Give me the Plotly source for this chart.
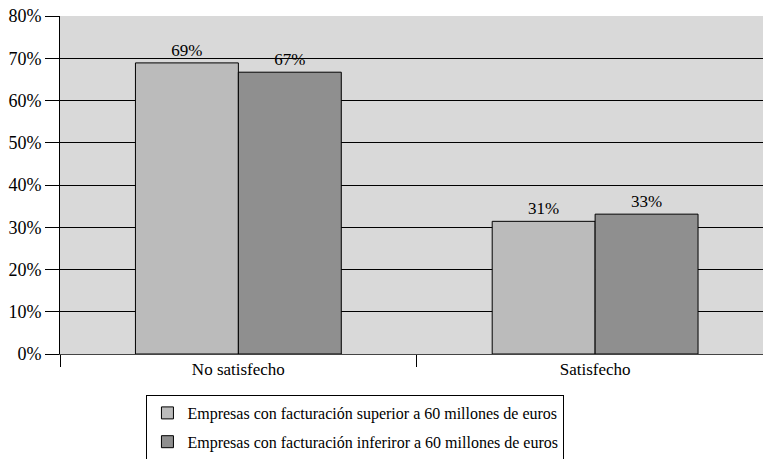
import plotly.graph_objects as go

categories = ["No satisfecho", "Satisfecho"]
series_names = ["Empresas con facturación superior a 60 millones de euros",
                "Empresas con facturación inferiror a 60 millones de euros"]
superior = [68.9, 31.4]
inferior = [66.7, 33.1]
y_ticks = [0, 10, 20, 30, 40, 50, 60, 70, 80]
y_tick_labels = ["0%", "10%", "20%", "30%", "40%", "50%", "60%", "70%", "80%"]

FONT = "Liberation Serif, Times New Roman, DejaVu Serif, serif"
fig = go.Figure()
for name, vals, col, grp in [(series_names[0], superior, "#bbbbbb", "a"),
                             (series_names[1], inferior, "#8f8f8f", "b")]:
    fig.add_trace(go.Bar(
        x=categories, y=vals, name=name, legendgroup=grp,
        marker=dict(color=col, line=dict(color="black", width=1)),
        texttemplate="%{y:.0f}%", textposition="outside",
        textfont=dict(family=FONT, size=17, color="black"),
        cliponaxis=False,
    ))

fig.update_layout(
    width=763, height=459,
    margin=dict(l=59.5, r=0, t=16, b=105, autoexpand=False),
    paper_bgcolor="white", plot_bgcolor="#d9d9d9",
    barmode="group", bargap=0.423, bargroupgap=0,
    font=dict(family=FONT, size=16, color="black"),
    showlegend=True,
    legend=dict(x=(146 - 59.5) / 703.5, xanchor="left",
                y=(354 - 395) / 338, yanchor="top",
                bordercolor="black", borderwidth=1, bgcolor="white",
                traceorder="grouped", tracegroupgap=5,
                font=dict(family=FONT, size=16)),
)
fig.update_xaxes(
    range=[-0.5, -0.5 + 703.5 * 2 / 714], automargin=False,
    tickson="boundaries", ticks="outside", ticklen=12, tickcolor="black",
    showline=True, linecolor="#444444", linewidth=1,
    showgrid=False, tickfont=dict(family=FONT, size=17),
)
fig.update_yaxes(
    range=[0, 80], tickvals=y_ticks, ticktext=y_tick_labels, automargin=False,
    ticks="outside", ticklen=14, tickcolor="black",
    showgrid=True, gridcolor="black", gridwidth=1,
    showline=True, linecolor="black", linewidth=1,
    zeroline=False, tickfont=dict(family=FONT, size=18),
)
fig.write_html("out.html", config={"displayModeBar": False},
               post_script="document.body.style.margin='0';document.body.style.overflow='hidden';")
